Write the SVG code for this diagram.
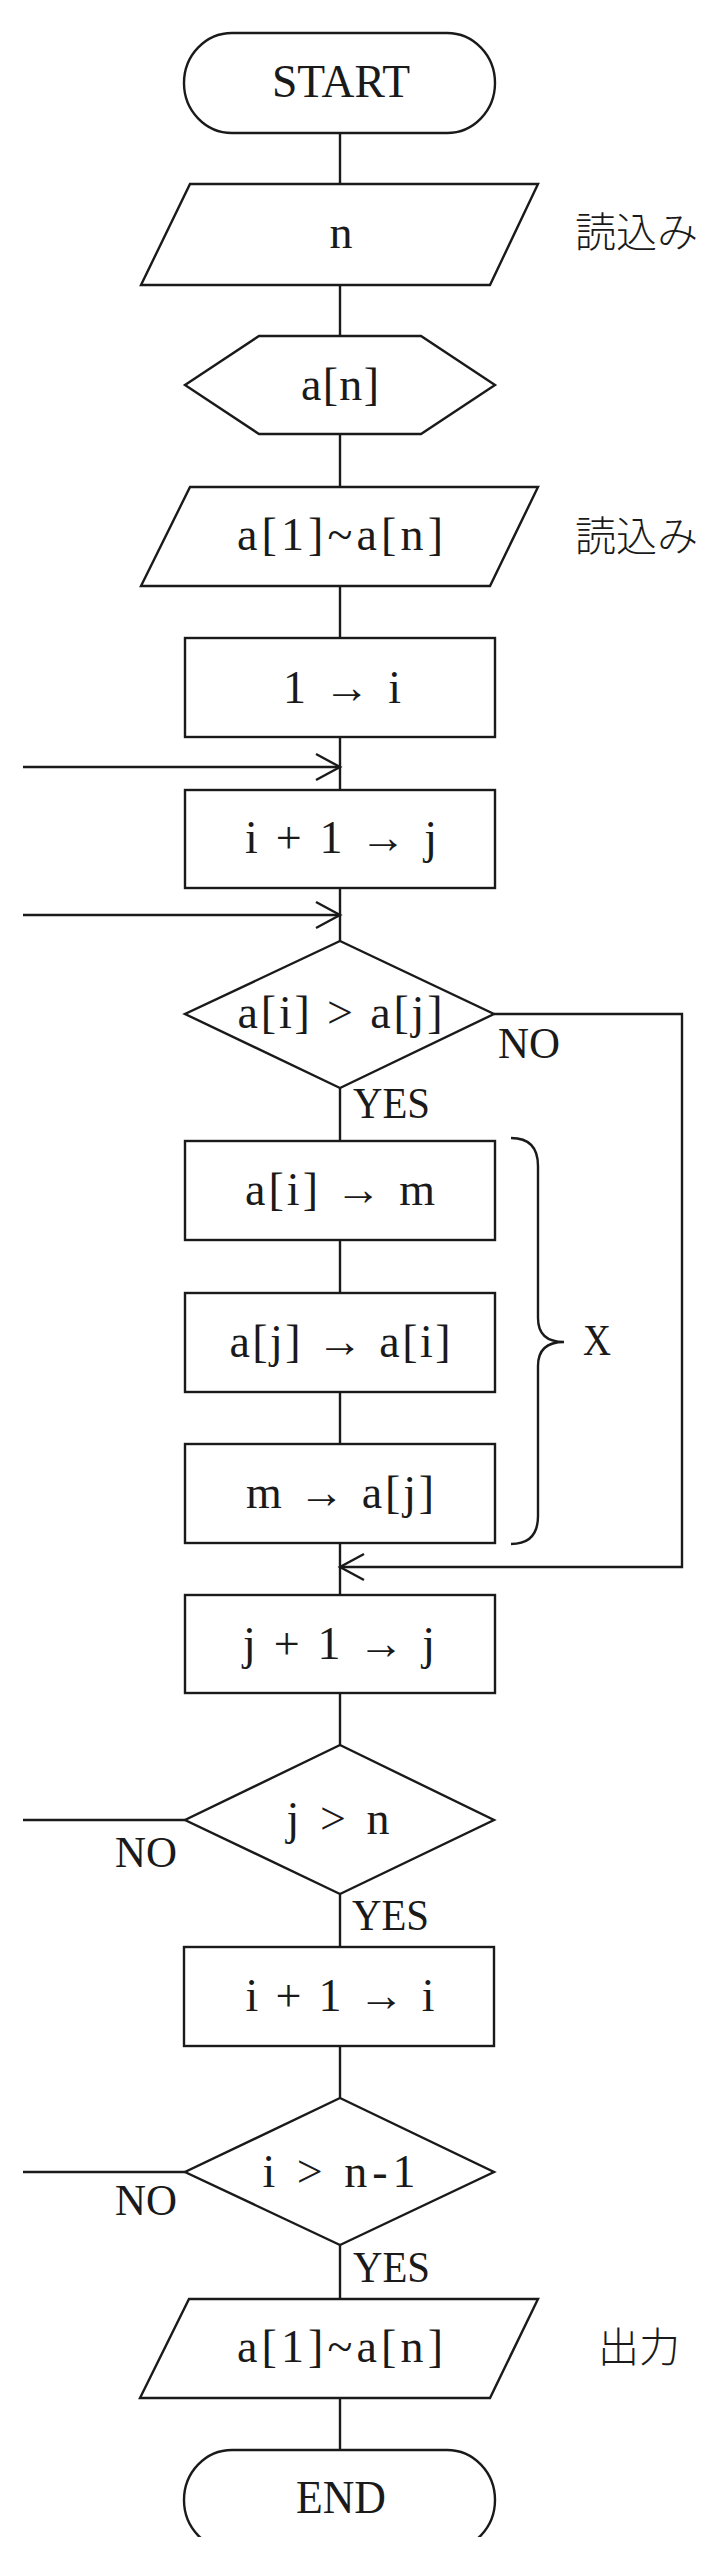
<svg xmlns="http://www.w3.org/2000/svg" width="721" height="2560" viewBox="0 0 721 2560">
<defs>
<style>
.shape{fill:#fff;stroke:#1a1a1a;stroke-width:2.4;stroke-linejoin:miter}
.conn{fill:none;stroke:#1a1a1a;stroke-width:2.4}
.t{font-family:"Liberation Serif","Times New Roman",serif;font-size:46px;fill:#1a1a1a;text-anchor:middle}
.lbl{font-family:"Liberation Serif","Times New Roman",serif;font-size:44px;fill:#1a1a1a}
.jp{font-family:"Noto Sans CJK JP","Noto Sans CJK SC",sans-serif;font-size:41px;font-weight:300;fill:#1a1a1a}
</style>
<marker id="chev" viewBox="-2 -2 28 30" refX="24" refY="13" markerWidth="28" markerHeight="30" markerUnits="userSpaceOnUse" orient="auto" overflow="visible">
<path d="M0,0 L24,13 L0,26" fill="none" stroke="#1a1a1a" stroke-width="2.4"/>
</marker>
<clipPath id="clipEnd"><rect x="0" y="2440" width="721" height="97"/></clipPath>
</defs>
<rect width="721" height="2560" fill="#fff"/>

<g id="connectors">
<line class="conn" x1="340" y1="133" x2="340" y2="184"/>
<line class="conn" x1="340" y1="285" x2="340" y2="336"/>
<line class="conn" x1="340" y1="434" x2="340" y2="487"/>
<line class="conn" x1="340" y1="586" x2="340" y2="638"/>
<line class="conn" x1="340" y1="737" x2="340" y2="790"/>
<line class="conn" x1="23" y1="767" x2="340" y2="767" marker-end="url(#chev)"/>
<line class="conn" x1="340" y1="888" x2="340" y2="941"/>
<line class="conn" x1="23" y1="915" x2="340" y2="915" marker-end="url(#chev)"/>
<line class="conn" x1="340" y1="1088" x2="340" y2="1141"/>
<line class="conn" x1="340" y1="1240" x2="340" y2="1293"/>
<line class="conn" x1="340" y1="1392" x2="340" y2="1444"/>
<line class="conn" x1="340" y1="1543" x2="340" y2="1595"/>
<polyline class="conn" points="494,1014 682,1014 682,1567 340,1567" marker-end="url(#chev)"/>
<line class="conn" x1="340" y1="1693" x2="340" y2="1745"/>
<line class="conn" x1="185" y1="1820" x2="23" y2="1820"/>
<line class="conn" x1="340" y1="1894" x2="340" y2="1947"/>
<line class="conn" x1="340" y1="2046" x2="340" y2="2098"/>
<line class="conn" x1="185" y1="2172" x2="23" y2="2172"/>
<line class="conn" x1="340" y1="2245" x2="340" y2="2299"/>
<line class="conn" x1="340" y1="2398" x2="340" y2="2450"/>
</g>

<g id="start">
<rect class="shape" x="184" y="33" width="311" height="100" rx="48" ry="50"/>
<text class="t" x="341" y="97" textLength="138" lengthAdjust="spacingAndGlyphs">START</text>
</g>

<g id="input-n">
<polygon class="shape" points="190,184 538,184 490,285 141,285"/>
<text class="t" x="341" y="248">n</text>
<text class="jp" x="575" y="247">読込み</text>
</g>

<g id="prep-an">
<polygon class="shape" points="185,385 259,336 421,336 495,385 421,434 259,434"/>
<text class="t" x="340" y="400" textLength="78" lengthAdjust="spacing">a[n]</text>
</g>

<g id="input-array">
<polygon class="shape" points="190,487 538,487 490,586 141,586"/>
<text class="t" x="340" y="550" textLength="206" lengthAdjust="spacing">a[1]~a[n]</text>
<text class="jp" x="575" y="551">読込み</text>
</g>

<g id="init-i">
<rect class="shape" x="185" y="638" width="310" height="99"/>
<text class="t" x="342" y="703" textLength="118" lengthAdjust="spacing">1 → i</text>
</g>

<g id="init-j">
<rect class="shape" x="185" y="790" width="310" height="98"/>
<text class="t" x="341" y="853" textLength="192" lengthAdjust="spacing">i + 1 → j</text>
</g>

<g id="cmp-aij">
<polygon class="shape" points="340,941 494,1014 340,1088 185,1014"/>
<text class="t" x="340" y="1028" textLength="205" lengthAdjust="spacing">a[i] &gt; a[j]</text>
<text class="lbl" x="498" y="1058" textLength="62" lengthAdjust="spacingAndGlyphs">NO</text>
<text class="lbl" x="353" y="1118" textLength="77" lengthAdjust="spacingAndGlyphs">YES</text>
</g>

<g id="swap1">
<rect class="shape" x="185" y="1141" width="310" height="99"/>
<text class="t" x="340" y="1205" textLength="190" lengthAdjust="spacing">a[i] → m</text>
</g>

<g id="swap2">
<rect class="shape" x="185" y="1293" width="310" height="99"/>
<text class="t" x="340" y="1357" textLength="221" lengthAdjust="spacing">a[j] → a[i]</text>
</g>

<g id="swap3">
<rect class="shape" x="185" y="1444" width="310" height="99"/>
<text class="t" x="340" y="1508" textLength="188" lengthAdjust="spacing">m → a[j]</text>
</g>

<g id="brace-x">
<path class="conn" d="M511,1138 Q538,1138 538,1166 L538,1318 Q538,1342 564,1342 Q538,1342 538,1366 L538,1516 Q538,1544 511,1544"/>
<text class="lbl" x="583" y="1355" textLength="28" lengthAdjust="spacingAndGlyphs">X</text>
</g>

<g id="inc-j">
<rect class="shape" x="185" y="1595" width="310" height="98"/>
<text class="t" x="339" y="1659" textLength="192" lengthAdjust="spacing">j + 1 → j</text>
</g>

<g id="cmp-jn">
<polygon class="shape" points="340,1745 494,1820 340,1894 185,1820"/>
<text class="t" x="338" y="1834" textLength="103" lengthAdjust="spacing">j &gt; n</text>
<text class="lbl" x="115" y="1867" textLength="62" lengthAdjust="spacingAndGlyphs">NO</text>
<text class="lbl" x="352" y="1930" textLength="77" lengthAdjust="spacingAndGlyphs">YES</text>
</g>

<g id="inc-i">
<rect class="shape" x="184" y="1947" width="310" height="99"/>
<text class="t" x="340" y="2011" textLength="189" lengthAdjust="spacing">i + 1 → i</text>
</g>

<g id="cmp-in1">
<polygon class="shape" points="340,2098 494,2172 340,2245 185,2172"/>
<text class="t" x="339" y="2187" textLength="153" lengthAdjust="spacing">i &gt; n-1</text>
<text class="lbl" x="115" y="2215" textLength="62" lengthAdjust="spacingAndGlyphs">NO</text>
<text class="lbl" x="353" y="2282" textLength="77" lengthAdjust="spacingAndGlyphs">YES</text>
</g>

<g id="output-array">
<polygon class="shape" points="189,2299 538,2299 490,2398 140,2398"/>
<text class="t" x="340" y="2362" textLength="206" lengthAdjust="spacing">a[1]~a[n]</text>
<text class="jp" x="598" y="2362" font-size="39">出力</text>
</g>

<g id="end">
<rect class="shape" x="184" y="2450" width="311" height="100" rx="48" ry="50" clip-path="url(#clipEnd)"/>
<text class="t" x="341" y="2513" textLength="90" lengthAdjust="spacingAndGlyphs">END</text>
</g>
</svg>
